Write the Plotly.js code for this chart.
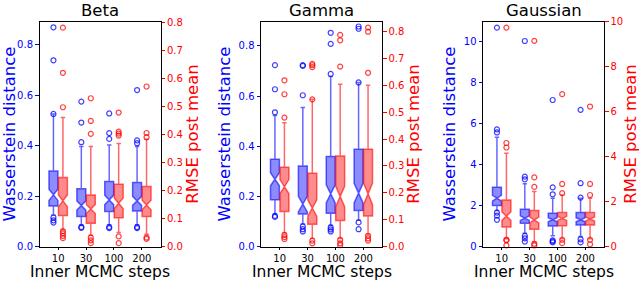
<!DOCTYPE html>
<html>
<head>
<meta charset="utf-8">
<script src="https://cdn.plot.ly/plotly-3.0.1.min.js"></script>
<style>html,body{margin:0;padding:0;background:#fff}#chart{width:640px;height:281px}</style>
</head>
<body>
<div id="chart"></div>
<script>
// ---------------- DATA ----------------
const steps = ['10', '30', '100', '200'];
const panels = ['Beta', 'Gamma', 'Gaussian'];
const xTitle = 'Inner MCMC steps';
const yLeftTitle = 'Wasserstein distance';
const yRightTitle = 'RMSE post mean';

// Beta – Wasserstein distance (blue, left axis)
const betaBlueQ1 = [0.161, 0.119, 0.139, 0.141];
const betaBlueMed = [0.205, 0.163, 0.185, 0.181];
const betaBlueQ3 = [0.300, 0.229, 0.258, 0.254];
const betaBlueLo = [0.125, 0.086, 0.086, 0.086];
const betaBlueHi = [0.526, 0.397, 0.403, 0.397];
const betaBlueNotch = [0.022, 0.018, 0.019, 0.018];
const betaBlueOut = [[0.870, 0.739, 0.526, 0.115, 0.104, 0.095], [0.575, 0.492, 0.414, 0.077, 0.074], [0.528, 0.450, 0.427, 0.077, 0.073], [0.621, 0.421, 0.410, 0.077, 0.073]];
// Beta – RMSE post mean (red, right axis)
const betaRedQ1 = [0.111, 0.083, 0.103, 0.107];
const betaRedMed = [0.163, 0.134, 0.154, 0.148];
const betaRedQ3 = [0.246, 0.184, 0.222, 0.214];
const betaRedLo = [0.060, 0.040, 0.050, 0.044];
const betaRedHi = [0.460, 0.357, 0.368, 0.383];
const betaRedNotch = [0.021, 0.016, 0.019, 0.017];
const betaRedOut = [[0.781, 0.620, 0.497, 0.055, 0.047, 0.038, 0.030], [0.529, 0.448, 0.402, 0.032, 0.022, 0.012], [0.478, 0.410, 0.403, 0.396, 0.036, 0.012], [0.571, 0.405, 0.390, 0.032, 0.027]];

// Gamma
const gammaBlueQ1 = [0.186, 0.130, 0.133, 0.144];
const gammaBlueMed = [0.268, 0.169, 0.210, 0.213];
const gammaBlueQ3 = [0.348, 0.321, 0.359, 0.388];
const gammaBlueLo = [0.130, 0.090, 0.085, 0.105];
const gammaBlueHi = [0.522, 0.554, 0.678, 0.654];
const gammaBlueNotch = [0.026, 0.031, 0.036, 0.039];
const gammaBlueOut = [[0.723, 0.627, 0.535, 0.122, 0.118], [0.723, 0.720, 0.603, 0.080, 0.069, 0.060], [0.852, 0.808, 0.688, 0.076, 0.068, 0.060], [0.877, 0.868, 0.654, 0.096, 0.069]];
const gammaRedQ1 = [0.130, 0.083, 0.097, 0.114];
const gammaRedMed = [0.223, 0.143, 0.186, 0.196];
const gammaRedQ3 = [0.295, 0.273, 0.337, 0.362];
const gammaRedLo = [0.050, 0.030, 0.030, 0.045];
const gammaRedHi = [0.461, 0.548, 0.604, 0.601];
const gammaRedNotch = [0.026, 0.030, 0.038, 0.040];
const gammaRedOut = [[0.619, 0.567, 0.480, 0.043, 0.035, 0.028], [0.680, 0.675, 0.668, 0.548, 0.022, 0.012], [0.788, 0.768, 0.670, 0.025, 0.012, 0.005], [0.815, 0.800, 0.647, 0.040, 0.030, 0.022]];

// Gaussian
const gaussBlueQ1 = [1.99, 1.13, 1.00, 1.05];
const gaussBlueMed = [2.35, 1.38, 1.30, 1.30];
const gaussBlueQ3 = [2.88, 1.81, 1.62, 1.65];
const gaussBlueLo = [1.75, 0.65, 0.52, 0.49];
const gaussBlueHi = [5.32, 3.05, 2.35, 2.35];
const gaussBlueNotch = [0.14, 0.11, 0.10, 0.10];
const gaussBlueOut = [[10.65, 5.70, 5.55, 1.65, 1.50, 1.30], [10.0, 3.40, 3.27, 0.52, 0.40, 0.24], [7.13, 2.88, 2.54, 0.30, 0.25, 0.20], [6.65, 3.08, 2.38, 0.35, 0.20]];
const gaussRedQ1 = [0.87, 0.77, 0.92, 0.96];
const gaussRedMed = [1.35, 1.18, 1.25, 1.22];
const gaussRedQ3 = [2.07, 1.60, 1.51, 1.51];
const gaussRedLo = [0.35, 0.20, 0.35, 0.35];
const gaussRedHi = [4.15, 2.44, 2.29, 2.15];
const gaussRedNotch = [0.19, 0.13, 0.09, 0.09];
const gaussRedOut = [[9.73, 4.60, 4.40, 0.30, 0.28, 0.05], [9.14, 3.07, 2.65, 0.12, 0.05], [6.77, 2.78, 2.37, 0.30, 0.15], [6.22, 2.78, 2.29, 0.30, 0.10]];

// ---------------- BUILD ----------------
const FONT = 'DejaVu Sans, sans-serif';
const BLUE = 'rgb(0,0,255)', RED = 'rgb(255,0,0)';
const cat = steps.map((s, i) => i);
const OFF = 0.17, BW = 0.32;

const sets = [
  {b: [betaBlueQ1, betaBlueMed, betaBlueQ3, betaBlueLo, betaBlueHi, betaBlueNotch, betaBlueOut],
   r: [betaRedQ1, betaRedMed, betaRedQ3, betaRedLo, betaRedHi, betaRedNotch, betaRedOut]},
  {b: [gammaBlueQ1, gammaBlueMed, gammaBlueQ3, gammaBlueLo, gammaBlueHi, gammaBlueNotch, gammaBlueOut],
   r: [gammaRedQ1, gammaRedMed, gammaRedQ3, gammaRedLo, gammaRedHi, gammaRedNotch, gammaRedOut]},
  {b: [gaussBlueQ1, gaussBlueMed, gaussBlueQ3, gaussBlueLo, gaussBlueHi, gaussBlueNotch, gaussBlueOut],
   r: [gaussRedQ1, gaussRedMed, gaussRedQ3, gaussRedLo, gaussRedHi, gaussRedNotch, gaussRedOut]}
];

const traces = [];
sets.forEach((s, p) => {
  const xa = p === 0 ? 'x' : 'x' + (p + 1);
  const yL = p === 0 ? 'y' : 'y' + (2 * p + 1);
  const yR = 'y' + (2 * p + 2);
  [['b', -OFF, yL, 'rgba(0,0,255,0.45)', 'rgba(0,0,255,0.6)', BLUE],
   ['r', OFF, yR, 'rgba(255,0,0,0.45)', 'rgba(255,0,0,0.6)', RED]].forEach(([k, off, ya, fill, line, mc]) => {
    const d = s[k];
    traces.push({
      type: 'box', xaxis: xa, yaxis: ya,
      x: cat.map(c => c + off),
      q1: d[0], median: d[1], q3: d[2], lowerfence: d[3], upperfence: d[4], notchspan: d[5],
      notched: true, notchwidth: 0.5, width: BW, whiskerwidth: 0.5,
      fillcolor: fill, line: {color: line, width: 1.5},
      boxpoints: false, showlegend: false, hoverinfo: 'skip'
    });
    const ox = [], oy = [];
    d[6].forEach((arr, i) => arr.forEach(v => { ox.push(i + off); oy.push(v); }));
    traces.push({
      type: 'scatter', mode: 'markers', xaxis: xa, yaxis: ya, x: ox, y: oy,
      marker: {symbol: 'circle-open', size: 5, color: mc, opacity: 0.75, line: {width: 1.2, color: mc}},
      showlegend: false, hoverinfo: 'skip', cliponaxis: false
    });
  });
});

const W = 640, H = 281;
const xDom = [[39.5, 160.5], [261, 382], [483, 604]];
const yDom = [(H - 246.5) / H, (H - 21.5) / H];
const leftRange = [[0, 0.893], [0, 0.897], [0, 10.95]];
const rightRange = [[0, 0.803], [0, 0.838], [0, 10.0]];
const leftTicks = [[0, 0.2, 0.4, 0.6, 0.8], [0, 0.2, 0.4, 0.6, 0.8], [0, 2, 4, 6, 8, 10]];
const rightTicks = [[0, 0.1, 0.2, 0.3, 0.4, 0.5, 0.6, 0.7, 0.8], [0, 0.1, 0.2, 0.3, 0.4, 0.5, 0.6, 0.7, 0.8], [0, 2, 4, 6, 8, 10]];
const fmt = ['.1f', '.1f', 'd'];

const layout = {
  width: W, height: H, margin: {l: 0, r: 0, t: 0, b: 0},
  paper_bgcolor: '#fff', plot_bgcolor: '#fff',
  font: {family: FONT, size: 10, color: '#000'},
  showlegend: false, boxmode: 'overlay', annotations: []
};
for (let p = 0; p < 3; p++) {
  const xk = p === 0 ? 'xaxis' : 'xaxis' + (p + 1);
  const yLk = p === 0 ? 'yaxis' : 'yaxis' + (2 * p + 1);
  const yRk = 'yaxis' + (2 * p + 2);
  const xa = p === 0 ? 'x' : 'x' + (p + 1);
  const yL = p === 0 ? 'y' : 'y' + (2 * p + 1);
  layout[xk] = {
    domain: [xDom[p][0] / W, xDom[p][1] / W], anchor: yL,
    range: [-0.67, 3.67], tickvals: cat, ticktext: steps,
    showline: true, mirror: true, linecolor: '#000', linewidth: 1,
    ticks: 'outside', ticklen: 2.5, tickcolor: '#000', showgrid: false, zeroline: false,
    tickfont: {family: FONT, size: 10, color: '#000'}
  };
  layout[yLk] = {
    domain: yDom, anchor: xa, range: leftRange[p], tickvals: leftTicks[p], tickformat: fmt[p],
    showline: true, linecolor: '#000', linewidth: 1, ticks: 'outside', ticklen: 3.5, tickcolor: BLUE,
    showgrid: false, zeroline: false,
    tickfont: {family: FONT, size: 10, color: BLUE},
    title: {text: yLeftTitle, font: {family: FONT, size: 16.5, color: BLUE}, standoff: 3}
  };
  layout[yRk] = {
    domain: yDom, anchor: xa, overlaying: yL, side: 'right',
    range: rightRange[p], tickvals: rightTicks[p], tickformat: fmt[p],
    showline: true, linecolor: '#000', linewidth: 1, ticks: 'outside', ticklen: 3.5, tickcolor: RED,
    showgrid: false, zeroline: false,
    tickfont: {family: FONT, size: 10, color: RED},
    title: {text: yRightTitle, font: {family: FONT, size: 16.5, color: RED}, standoff: 3}
  };
  const cx = (xDom[p][0] + xDom[p][1]) / 2 / W;
  layout.annotations.push({
    text: panels[p], xref: 'paper', yref: 'paper',
    x: cx, y: (H - 10.5) / H, yanchor: 'middle', xanchor: 'center',
    showarrow: false, font: {family: FONT, size: 16.5, color: '#000'}
  });
  layout.annotations.push({
    text: xTitle, xref: 'paper', yref: 'paper',
    x: cx, y: (H - 272.3) / H, yanchor: 'middle', xanchor: 'center', borderpad: 0,
    showarrow: false, font: {family: FONT, size: 15.5, color: '#000'}
  });
}

Plotly.newPlot('chart', traces, layout, {displayModeBar: false, staticPlot: true});
</script>
</body>
</html>
